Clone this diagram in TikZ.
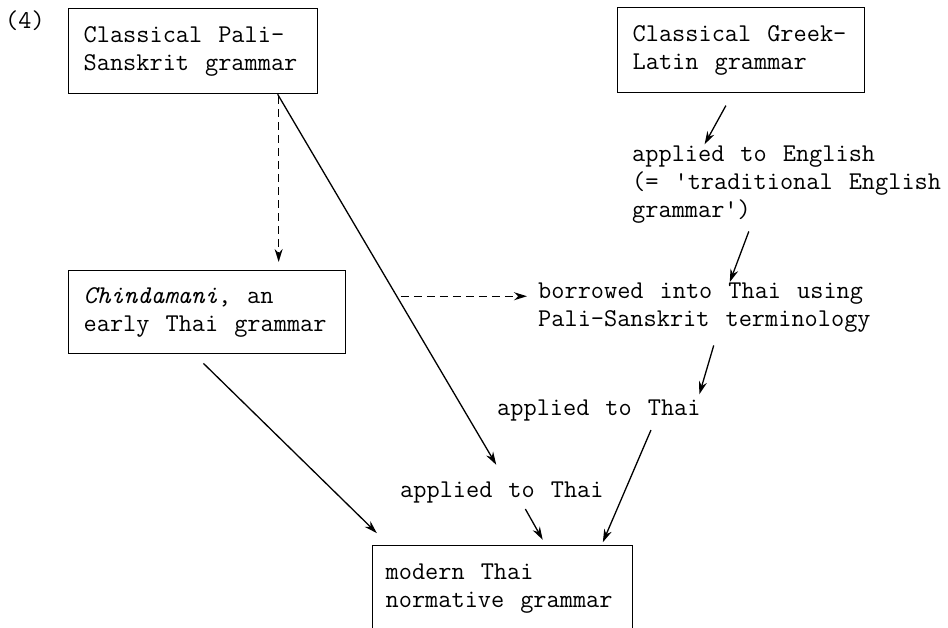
\documentclass[tikz,border=0pt]{standalone}
\usepackage{fontspec}
\usetikzlibrary{arrows.meta}
\newcommand{\diagfont}{\ttfamily\fontsize{25.6}{28}\selectfont\fontdimen2\font=16pt\relax}
\tikzstyle{grammar} = [
    rectangle,
    draw=black,
    line width=1.3pt,
    align=left,
    inner xsep=15pt,
    minimum height=85pt,
    anchor=north west,
    execute at begin node={\spaceskip=16pt\xspaceskip=16pt\relax}
]
\tikzstyle{note} = [
    inner sep=0pt,
    align=left,
    anchor=west
]
\tikzstyle{arrow} = [line width=1.3pt,-{Stealth[length=13pt,width=8pt]}]
\tikzstyle{dasharrow} = [arrow, dash pattern=on 8pt off 5pt]

\begin{document}
\begin{tikzpicture}[x=1pt, y=-1pt, font=\diagfont]

\useasboundingbox (0,0) rectangle (948,627);

\node (num) [note, anchor=base west] at (5,28) {(4)};

\node (pali) [grammar, text width=219pt] at (68,8)
{Classical Pali-\\Sanskrit grammar};

\node (greek) [grammar, text width=217pt] at (617,7)
{Classical Greek-\\Latin grammar};

\node (chind) [grammar, text width=247pt, minimum height=83pt] at (68,270)
{\textit{Chindamani}, an\\early Thai grammar};

\node (modern) [grammar, text width=234pt, inner xsep=13pt] at (372,545)
{modern Thai\\normative grammar};

\node (eng) [note] at (632,185)
{applied to English\\(= 'traditional English\\grammar')};

\node (borrow) [note] at (538,308)
{borrowed into Thai using\\Pali-Sanskrit terminology};

\node (thaiA) [note, anchor=base west] at (497,415) {applied to Thai};

\node (thaiB) [note, anchor=base west] at (400,497) {applied to Thai};

\draw [dasharrow, shorten <=2pt, shorten >=8pt] ([xshift=85.5pt]pali.south) -- ([xshift=71.5pt]chind.north);
\draw [arrow, shorten >=19pt] ([xshift=84.5pt]pali.south) -- coordinate[pos=0.522] (cross) ([xshift=4pt]thaiB.north);
\draw [dasharrow, shorten <=4pt, shorten >=11pt] (cross) -- (cross -| borrow.west);
\draw [arrow, shorten <=14pt, shorten >=2pt] ([xshift=-8.5pt]greek.south) -- ([xshift=-83pt]eng.north);
\draw [arrow, shorten <=8pt, shorten >=1pt] ([xshift=-35pt]eng.south) -- ([xshift=25pt]borrow.north);
\draw [arrow, shorten <=13pt, shorten >=5pt] ([xshift=13pt]borrow.south) -- ([xshift=99pt]thaiA.north);
\draw [arrow, shorten <=10pt, shorten >=3pt] ([xshift=56pt]thaiA.south) -- ([xshift=99pt]modern.north);
\draw [arrow, shorten <=7pt, shorten >=6pt] ([xshift=20pt]thaiB.south) -- ([xshift=43pt]modern.north);
\draw [arrow, shorten <=13pt, shorten >=17pt] ([xshift=-13pt]chind.south) -- ([xshift=17pt]modern.north west);

\end{tikzpicture}
\end{document}
